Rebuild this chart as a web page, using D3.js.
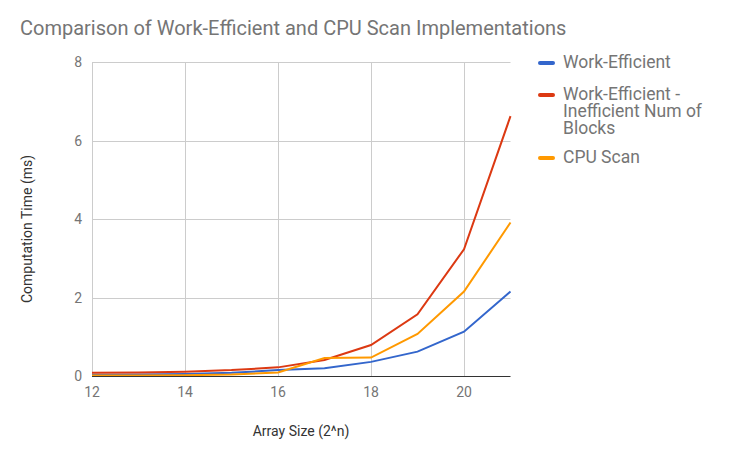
<!DOCTYPE html>
<html>
<head>
<meta charset="utf-8">
<script src="https://cdn.jsdelivr.net/npm/d3@7"></script>
<style>
body { margin: 0; background: #fff; }
text { font-family: Roboto, sans-serif; }
</style>
</head>
<body>
<script>
var width = 743, height = 457

// data
var sizes = [12, 13, 14, 15, 16, 17, 18, 19, 20, 21]
var workEfficient = [0.03, 0.04, 0.05, 0.08, 0.15, 0.2, 0.36, 0.62, 1.13, 2.15]
var workEfficientBadBlocks = [0.08, 0.09, 0.11, 0.15, 0.22, 0.41, 0.79, 1.57, 3.23, 6.62]
var cpuScan = [0.01, 0.01, 0.02, 0.04, 0.09, 0.46, 0.47, 1.07, 2.15, 3.91]
var seriesNames = [["Work-Efficient"], ["Work-Efficient -", "Inefficient Num of", "Blocks"], ["CPU Scan"]]
var seriesColors = ["#3366cc", "#dc3912", "#ff9900"]
var xTicks = [12, 14, 16, 18, 20]
var yTicks = [0, 2, 4, 6, 8]

var series = [workEfficient, workEfficientBadBlocks, cpuScan]

var svg = d3.select("body").append("svg")
	.attr("width", width)
	.attr("height", height)

var x = d3.scaleLinear().domain([12, 21]).range([92, 510.5])
var y = d3.scaleLinear().domain([0, 8]).range([376, 62])

// gridlines
svg.append("g").selectAll("line").data(yTicks.filter(function(d){ return d > 0 }))
	.join("line")
	.attr("x1", 92).attr("x2", 510.5)
	.attr("y1", function(d){ return Math.round(y(d)) + 0.5 })
	.attr("y2", function(d){ return Math.round(y(d)) + 0.5 })
	.style("stroke", "#cccccc")
svg.append("g").selectAll("line").data(xTicks)
	.join("line")
	.attr("x1", function(d){ return Math.round(x(d)) + 0.5 })
	.attr("x2", function(d){ return Math.round(x(d)) + 0.5 })
	.attr("y1", 62).attr("y2", 376)
	.style("stroke", "#cccccc")

// tick labels
svg.append("g").selectAll("text").data(yTicks)
	.join("text")
	.attr("x", 82)
	.attr("y", function(d){ return y(d) + 5 })
	.attr("text-anchor", "end")
	.style("font-size", "14px")
	.style("fill", "#757575")
	.text(function(d){ return d })
svg.append("g").selectAll("text").data(xTicks)
	.join("text")
	.attr("x", function(d){ return x(d) })
	.attr("y", 397)
	.attr("text-anchor", "middle")
	.style("font-size", "14px")
	.style("fill", "#757575")
	.text(function(d){ return d })

// lines
var line = d3.line()
	.x(function(d, i){ return x(sizes[i]) })
	.y(function(d){ return y(d) })

series.forEach(function(s, i) {
	svg.append("path")
		.attr("d", line(s))
		.style("fill", "none")
		.style("stroke", seriesColors[i])
		.style("stroke-width", 2)
})

// baseline
svg.append("line")
	.attr("x1", 92).attr("x2", 510.5)
	.attr("y1", 376.5).attr("y2", 376.5)
	.style("stroke", "#333333")

// title
svg.append("text")
	.attr("x", 20).attr("y", 35)
	.style("font-size", "20px")
	.style("fill", "#757575")
	.text("Comparison of Work-Efficient and CPU Scan Implementations")

// axis titles
svg.append("text")
	.attr("x", 301).attr("y", 436)
	.attr("text-anchor", "middle")
	.style("font-size", "14px")
	.style("fill", "#333")
	.text("Array Size (2^n)")
svg.append("text")
	.attr("transform", "translate(32,229) rotate(-90)")
	.attr("text-anchor", "middle")
	.style("font-size", "14px")
	.style("fill", "#333")
	.text("Computation Time (ms)")

// legend
var legendY = [63, 95, 158]
seriesNames.forEach(function(name, i) {
	var g = svg.append("g")
	g.append("line")
		.attr("x1", 540).attr("x2", 553)
		.attr("y1", legendY[i]).attr("y2", legendY[i])
		.style("stroke", seriesColors[i])
		.style("stroke-width", 4)
		.style("stroke-linecap", "round")
	name.forEach(function(t, j) {
		g.append("text")
			.attr("x", 563)
			.attr("y", legendY[i] + 4.5 + j * 17)
			.style("font-size", "17.5px")
			.style("fill", "#757575")
			.text(t)
	})
})
</script>
</body>
</html>
